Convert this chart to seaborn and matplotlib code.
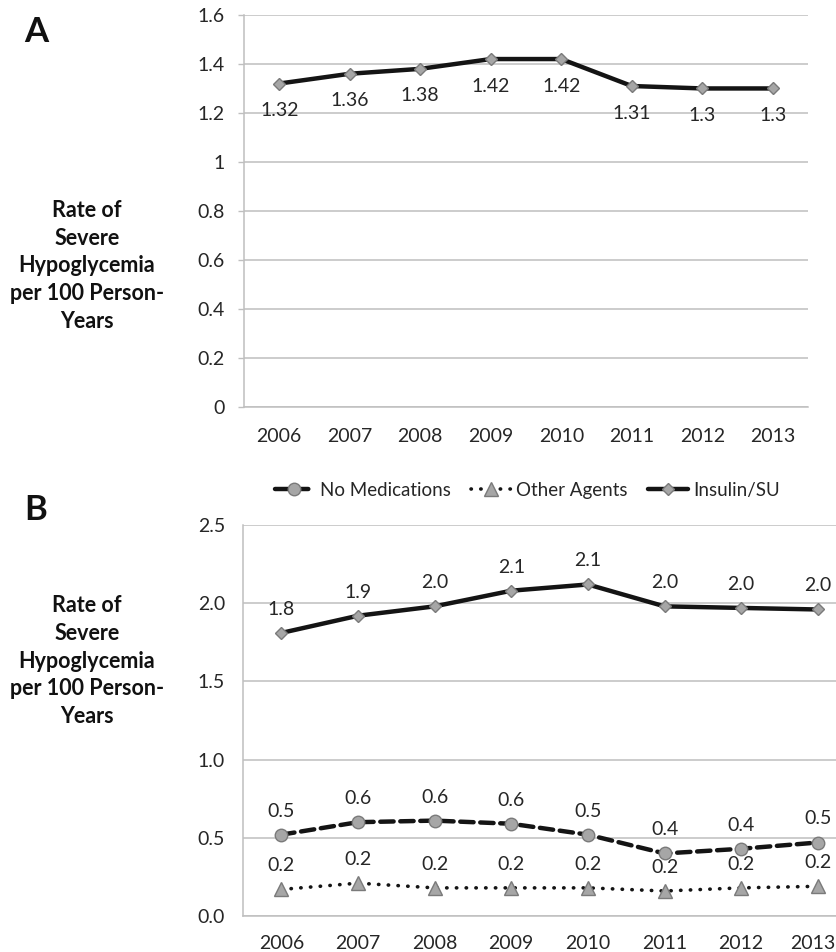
import numpy as np
import seaborn as sns
import matplotlib.pyplot as plt
import matplotlib.transforms as mtransforms

# values
years = ['2006', '2007', '2008', '2009', '2010', '2011', '2012', '2013']
rate_a = [1.32, 1.36, 1.38, 1.42, 1.42, 1.31, 1.3, 1.3]
no_meds = [0.52, 0.60, 0.61, 0.59, 0.52, 0.40, 0.43, 0.47]
other_agents = [0.17, 0.21, 0.18, 0.18, 0.18, 0.16, 0.18, 0.19]
insulin_su = [1.81, 1.92, 1.98, 2.08, 2.12, 1.98, 1.97, 1.96]
ticks_a = [0, 0.2, 0.4, 0.6, 0.8, 1, 1.2, 1.4, 1.6]
ticks_b = [0.0, 0.5, 1.0, 1.5, 2.0, 2.5]
ylabel = 'Rate of\nSevere\nHypoglycemia\nper 100 Person-\nYears'

sns.set_theme(style='white')
plt.rcParams['font.family'] = ['Lato', 'DejaVu Sans']

grey = '#bfbfbf'
ink = '#262626'
fill = '#a6a6a6'
edge = '#7a7a7a'
fs = 14

fig = plt.figure(figsize=(8.37, 9.52), dpi=100)
ax_a = fig.add_axes([0.2915, 0.5725, 0.6739, 0.4118])
ax_b = fig.add_axes([0.2903, 0.0378, 0.7097, 0.4107])
pos = np.arange(len(years))

# Panel A
sns.lineplot(x=pos, y=rate_a, ax=ax_a, color='#141414', linewidth=3.2,
             marker='D', markersize=6.5, markerfacecolor=fill,
             markeredgecolor=edge, markeredgewidth=1, zorder=3)
for x, v in zip(pos, rate_a):
    ax_a.annotate(f'{v:g}', (x, v), xytext=(0, -19.5), textcoords='offset points',
                  ha='center', va='center', fontsize=fs, color=ink)

ax_a.set_xlim(-0.5, 7.5)
ax_a.set_ylim(0, 1.6)
ax_a.set_yticks(ticks_a)
ax_a.set_yticklabels([f'{t:g}' for t in ticks_a])
ax_a.set_xticks(pos)
ax_a.set_xticklabels(years)
ax_a.set_xticks(np.arange(-0.5, 8, 1), minor=True)
ax_a.tick_params(axis='x', which='major', length=0, pad=15, labelsize=fs, labelcolor=ink)
ax_a.tick_params(axis='x', which='minor', length=4.5, width=1, color=grey, direction='out')
ax_a.tick_params(axis='y', length=4.5, width=1, color=grey, pad=9.5, labelsize=fs,
                 labelcolor=ink, left=True)

# Panel B
series = [
    ('No Medications', no_meds, 'o', 9, (0, (3, 1.5)), 3.2),
    ('Other Agents', other_agents, '^', 10, (0, (0.1, 2.6)), 2.6),
    ('Insulin/SU', insulin_su, 'D', 6.5, '-', 3.2),
]
for name, vals, mk, ms, ls, lw in series:
    sns.lineplot(x=pos, y=vals, ax=ax_b, color='#141414', linewidth=lw,
                 linestyle=ls, dash_capstyle='round', marker=mk, markersize=ms,
                 markerfacecolor=fill, markeredgecolor=edge, markeredgewidth=1,
                 label=name, zorder=3)
    for x, v in zip(pos, vals):
        ax_b.annotate(f'{v:.1f}', (x, v), xytext=(0, 17), textcoords='offset points',
                      ha='center', va='center', fontsize=fs, color=ink)

ax_b.set_xlim(-0.5, 7.25)
ax_b.set_ylim(0, 2.5)
ax_b.set_yticks(ticks_b)
ax_b.set_yticklabels([f'{t:.1f}' for t in ticks_b])
ax_b.set_xticks(pos)
ax_b.set_xticklabels(years)
ax_b.tick_params(axis='x', length=0, pad=14, labelsize=fs, labelcolor=ink)
ax_b.tick_params(axis='y', length=0, pad=13, labelsize=fs, labelcolor=ink)
# last year label sits right at the cropped edge; nudge it in a little
last = ax_b.get_xticklabels()[-1]
last.set_transform(last.get_transform() +
                   mtransforms.ScaledTranslation(-5 / 100, 0, fig.dpi_scale_trans))

ax_b.legend(loc='center', bbox_to_anchor=(0.63, 0.485), bbox_transform=fig.transFigure,
            ncol=3, frameon=False, fontsize=13.5, handlelength=2.1,
            handletextpad=0.3, columnspacing=1.1, labelcolor=ink)

for ax in (ax_a, ax_b):
    ax.set_xlabel('')
    ax.set_ylabel('')
    ax.yaxis.grid(True, color=grey, linewidth=1.1)
    ax.set_axisbelow(True)
    for side in ('top', 'right'):
        ax.spines[side].set_visible(False)
    for side in ('left', 'bottom'):
        ax.spines[side].set_color(grey)
        ax.spines[side].set_linewidth(1.1)

# panel letters and side labels
fig.text(36 / 837, 1 - 32.5 / 952, 'A', fontsize=25, fontweight='bold',
         ha='center', va='center', color='#111111')
fig.text(36 / 837, 1 - 510 / 952, 'B', fontsize=25, fontweight='bold',
         ha='center', va='center', color='#111111')
fig.text(87 / 837, 1 - 266 / 952, ylabel, fontsize=15.5, fontweight='bold',
         ha='center', va='center', linespacing=1.4, color='#111111')
fig.text(87 / 837, 1 - 661 / 952, ylabel, fontsize=15.5, fontweight='bold',
         ha='center', va='center', linespacing=1.4, color='#111111')

fig.savefig('out.png', dpi=100)
